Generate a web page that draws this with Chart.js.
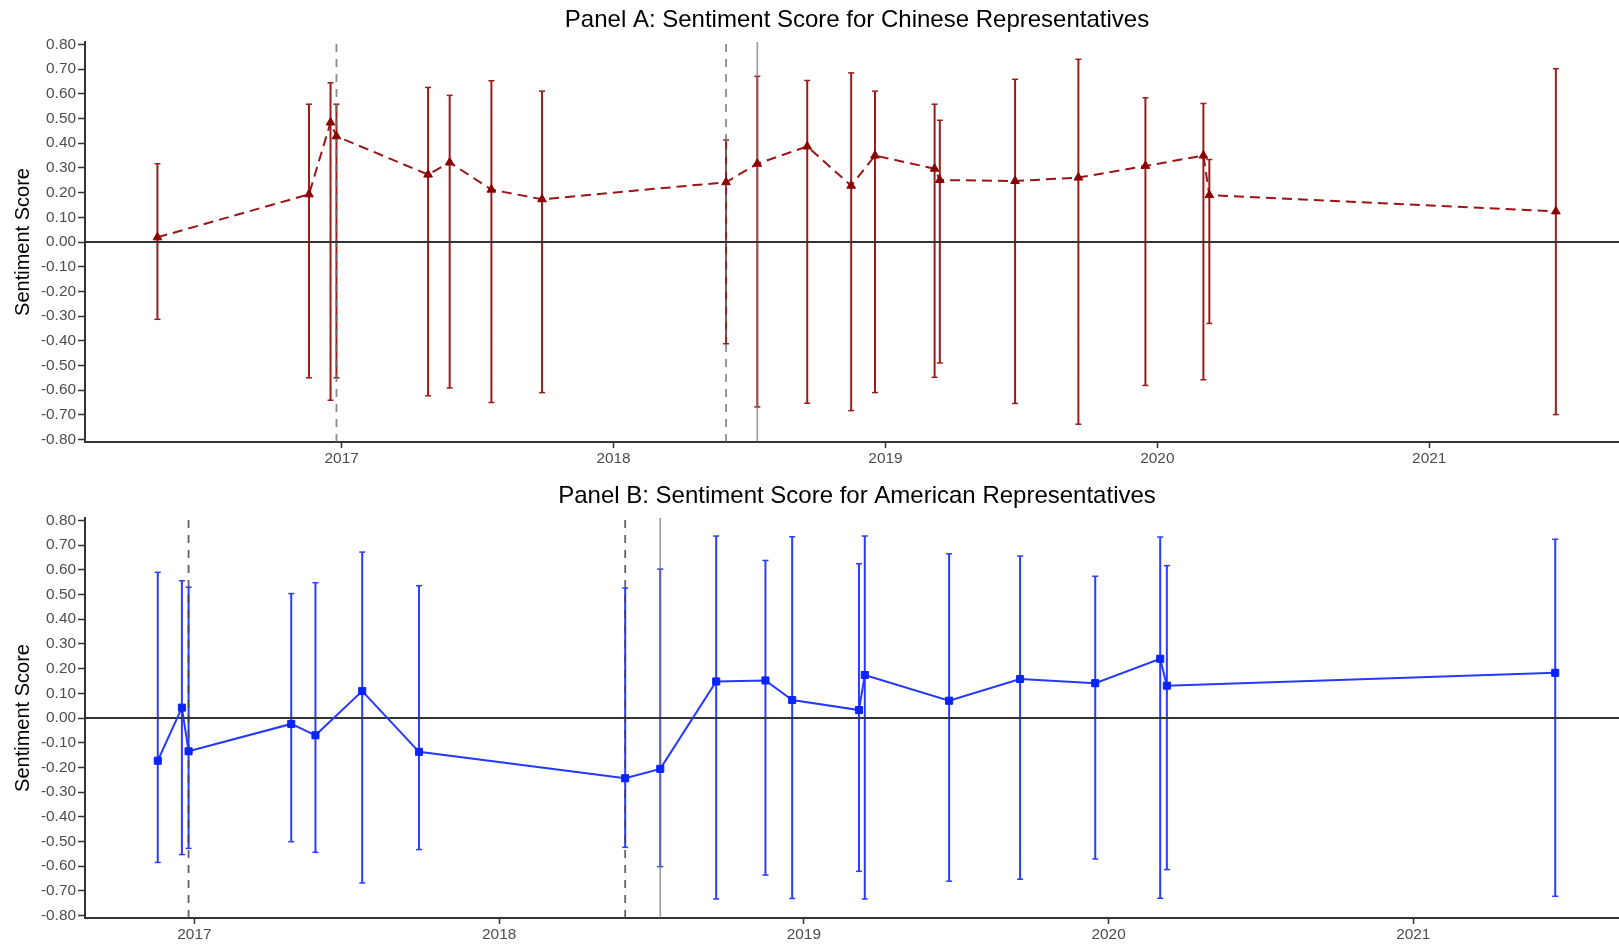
<!DOCTYPE html>
<html>
<head>
<meta charset="utf-8">
<script src="https://cdn.jsdelivr.net/npm/chart.js@4.4.1/dist/chart.umd.min.js"></script>
<style>
html,body{margin:0;padding:0;background:#fff;overflow:hidden;width:1619px;height:946px}
canvas{position:absolute;left:0;display:block}
#ca{top:0}
#cb{top:470px}
</style>
</head>
<body>
<canvas id="ca" width="1619" height="470"></canvas>
<canvas id="cb" width="1619" height="476"></canvas>
<script>
// ---------------- data ----------------
const chinaDates = ['2016-04-28','2016-11-18','2016-12-17','2016-12-25','2017-04-27','2017-05-26','2017-07-21','2017-09-27','2018-06-01','2018-07-13','2018-09-18','2018-11-16','2018-12-18','2019-03-08','2019-03-15','2019-06-24','2019-09-17','2019-12-16','2020-03-03','2020-03-11','2021-06-20'];
const chinaScore = [0.019,0.193,0.484,0.428,0.273,0.322,0.212,0.173,0.242,0.317,0.387,0.228,0.350,0.297,0.251,0.247,0.261,0.308,0.350,0.190,0.124];
const chinaHigh  = [0.317,0.558,0.645,0.558,0.626,0.594,0.653,0.611,0.413,0.671,0.654,0.685,0.611,0.558,0.493,0.659,0.740,0.584,0.561,0.334,0.702];
const chinaLow   = [-0.313,-0.550,-0.641,-0.550,-0.623,-0.591,-0.650,-0.610,-0.412,-0.668,-0.653,-0.683,-0.610,-0.548,-0.490,-0.654,-0.738,-0.581,-0.558,-0.330,-0.699];

const usDates = ['2016-11-18','2016-12-17','2016-12-25','2017-04-27','2017-05-26','2017-07-21','2017-09-27','2018-06-01','2018-07-13','2018-09-18','2018-11-16','2018-12-18','2019-03-08','2019-03-15','2019-06-24','2019-09-17','2019-12-16','2020-03-03','2020-03-11','2021-06-20'];
const usScore = [-0.173,0.042,-0.135,-0.024,-0.070,0.109,-0.137,-0.244,-0.206,0.148,0.152,0.073,0.032,0.174,0.070,0.158,0.141,0.240,0.131,0.183];
const usHigh  = [0.590,0.556,0.530,0.504,0.548,0.672,0.536,0.526,0.603,0.737,0.638,0.734,0.625,0.737,0.665,0.656,0.574,0.733,0.617,0.724];
const usLow   = [-0.585,-0.553,-0.528,-0.501,-0.544,-0.668,-0.533,-0.524,-0.602,-0.733,-0.636,-0.731,-0.621,-0.733,-0.661,-0.653,-0.571,-0.730,-0.614,-0.722];

const eventDashed = ['2016-12-25','2018-06-01'];
const eventSolid  = ['2018-07-13'];

const yTicks = [-0.8,-0.7,-0.6,-0.5,-0.4,-0.3,-0.2,-0.1,0,0.1,0.2,0.3,0.4,0.5,0.6,0.7,0.8];
const xTicks = [2017,2018,2019,2020,2021];
const yLimits = [-0.81, 0.81];

// ---------------- helpers ----------------
const FONT = '"Liberation Sans", Arial, Helvetica, sans-serif';
Chart.defaults.font.family = FONT;

function decYear(s){
  const [y,m,d] = s.split('-').map(Number);
  const a = Date.UTC(y,0,1), b = Date.UTC(y+1,0,1);
  return y + (Date.UTC(y,m-1,d) - a) / (b - a);
}
function errorSegments(dates, lo, hi){
  const out = [];
  dates.forEach((d,i)=>{
    const x = decYear(d);
    out.push({x, y: lo[i]}, {x, y: hi[i]}, {x, y: null});
  });
  return out;
}
function vlines(dates){
  const out = [];
  dates.forEach(d=>{
    const x = decYear(d);
    out.push({x, y: yLimits[0]}, {x, y: yLimits[1]}, {x, y: null});
  });
  return out;
}

const panelTitle = {
  id: 'panelTitle',
  afterDraw(chart, args, opts){
    const {ctx, chartArea} = chart;
    ctx.save();
    ctx.font = '24px ' + FONT;
    ctx.fillStyle = '#000';
    ctx.textAlign = 'center';
    ctx.textBaseline = 'alphabetic';
    ctx.fillText(opts.text, chartArea.left + chartArea.width/2 + 5, chartArea.top - 15.3);
    ctx.restore();
  }
};

function makeChart(canvas, cfg){
  const xMin = cfg.xMin, xMax = cfg.xMax;
  return new Chart(canvas, {
    type: 'line',
    data: {
      datasets: [
        { // error bars with caps
          data: errorSegments(cfg.dates, cfg.low, cfg.high),
          borderColor: cfg.barColor, borderWidth: 2, spanGaps: false,
          pointStyle: 'line', pointRadius: 3, pointBorderWidth: 1.5,
          pointBorderColor: cfg.barColor, pointBackgroundColor: cfg.barColor,
          order: 5, tension: 0
        },
        { // dashed event lines
          data: vlines(eventDashed),
          borderColor: cfg.dashColor, borderWidth: 1.8, borderDash: [8,7],
          spanGaps: false, pointRadius: 0, order: 4
        },
        { // solid event line
          data: vlines(eventSolid),
          borderColor: 'rgba(120,120,120,0.75)', borderWidth: 1.6,
          spanGaps: false, pointRadius: 0, order: 3
        },
        { // zero line
          data: [{x: xMin, y: 0}, {x: xMax, y: 0}],
          borderColor: '#333', borderWidth: 2, pointRadius: 0, order: 2
        },
        { // series
          data: cfg.dates.map((d,i)=>({x: decYear(d), y: cfg.score[i]})),
          borderColor: cfg.lineColor, borderWidth: 2, borderDash: cfg.dash,
          pointStyle: cfg.marker, pointRadius: cfg.markerRadius,
          pointBackgroundColor: cfg.markerColor, pointBorderColor: cfg.markerColor,
          pointBorderWidth: 1, order: 1, tension: 0
        }
      ]
    },
    options: {
      responsive: false,
      animation: false,
      events: [],
      layout: { autoPadding: false, padding: { top: cfg.padTop, left: 0, right: 0, bottom: 0 } },
      plugins: {
        legend: { display: false },
        tooltip: { enabled: false },
        title: { display: false },
        panelTitle: { text: cfg.title }
      },
      scales: {
        x: {
          type: 'linear', min: xMin, max: xMax,
          afterBuildTicks: s => { s.ticks = xTicks.map(v => ({value: v})); },
          afterFit: s => { s.height = 28; },
          ticks: { callback: v => String(v), color: '#4d4d4d', font: {size: 15.4}, padding: 2, autoSkip: false, maxRotation: 0 },
          grid: { drawOnChartArea: false, drawTicks: true, tickLength: 6, tickColor: '#333', tickWidth: 1.5 },
          border: { display: true, color: '#333', width: 2 }
        },
        y: {
          type: 'linear', min: yLimits[0], max: yLimits[1],
          afterBuildTicks: s => { s.ticks = yTicks.map(v => ({value: v})); },
          afterFit: s => { s.width = 85; },
          ticks: { callback: v => Number(v).toFixed(2), color: '#4d4d4d', font: {size: 15.4}, padding: 2, autoSkip: false },
          grid: { drawOnChartArea: false, drawTicks: true, tickLength: 7, tickColor: '#333', tickWidth: 1.5 },
          border: { display: true, color: '#333', width: 2 },
          title: { display: true, text: 'Sentiment Score', color: '#000', font: {size: 20}, padding: {top: 11, bottom: 0} }
        }
      }
    },
    plugins: [panelTitle]
  });
}

makeChart(document.getElementById('ca'), {
  title: 'Panel A: Sentiment Score for Chinese Representatives',
  dates: chinaDates, score: chinaScore, low: chinaLow, high: chinaHigh,
  xMin: 2016.056, xMax: 2021.698, padTop: 42,
  barColor: '#9c1c1c', lineColor: '#9a1515', markerColor: '#8b0000',
  dash: [10,6], marker: 'triangle', markerRadius: 5, dashColor: 'rgba(110,110,110,0.8)'
});

makeChart(document.getElementById('cb'), {
  title: 'Panel B: Sentiment Score for American Representatives',
  dates: usDates, score: usScore, low: usLow, high: usHigh,
  xMin: 2016.641, xMax: 2021.675, padTop: 48,
  barColor: '#2a3dff', lineColor: '#2438ff', markerColor: '#0a24ff',
  dash: [], marker: 'rect', markerRadius: 5, dashColor: 'rgba(70,70,70,0.85)'
});
</script>
</body>
</html>
